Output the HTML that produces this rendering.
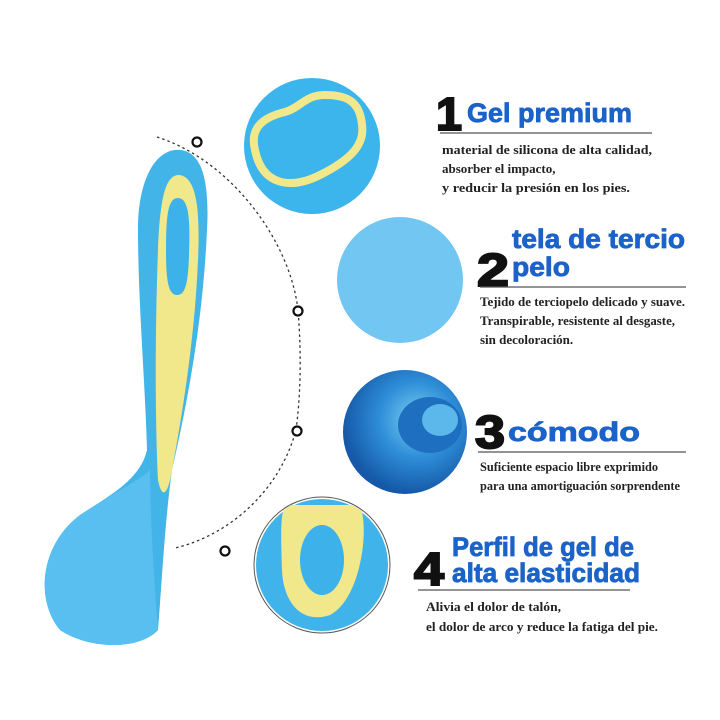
<!DOCTYPE html>
<html><head><meta charset="utf-8"><style>
html,body{margin:0;padding:0;background:#fff}
svg{display:block}
.t{font-family:"Liberation Sans",sans-serif;font-weight:bold;fill:#1b63c9;stroke:#1b63c9;stroke-width:0.8;font-size:27px}
.n{font-family:"Liberation Sans",sans-serif;font-weight:bold;fill:#111;stroke:#111;stroke-width:2;font-size:46px}
.d{font-family:"Liberation Serif",serif;font-weight:bold;fill:#222;font-size:13px}
</style></head><body>
<svg width="720" height="720" viewBox="0 0 720 720" xmlns="http://www.w3.org/2000/svg">
<defs>
<clipPath id="c1"><circle cx="312" cy="146" r="68"/></clipPath>
<clipPath id="c4"><circle cx="322" cy="565" r="67"/></clipPath>
<radialGradient id="g3" cx="0.6" cy="0.4" r="0.6"><stop offset="0" stop-color="#7fd0f0"/><stop offset="0.5" stop-color="#2f8fd8"/><stop offset="1" stop-color="#1559a8"/></radialGradient>
</defs>
<path d="M175,150 C200,148 210,175 207,230 C203,320 188,400 172,470 C165,520 162,580 158,630 C140,650 90,650 60,630 C35,600 40,545 80,515 C110,495 140,480 147,450 C145,380 138,300 138,230 C138,180 155,152 175,150 Z" fill="#43b4e8"/>
<path d="M178,175 C198,175 200,215 198,260 C195,330 185,400 172,470 C168,495 162,500 158,480 C155,420 155,330 158,250 C160,200 165,176 178,175 Z" fill="#f0e88a"/>
<path d="M178,198 C190,198 190,225 189,255 C188,285 185,295 177,295 C168,295 166,280 166,250 C166,215 168,198 178,198 Z" fill="#3cb1ea"/>
<path d="M60,630 C35,600 40,545 80,515 C110,495 140,480 150,470 C150,520 155,590 158,630 C140,650 90,650 60,630 Z" fill="#58bff0"/>
<path d="M157,137 C230,160 290,240 298,310 C302,360 300,400 296,430 C280,490 230,535 175,548" fill="none" stroke="#333" stroke-width="1.3" stroke-dasharray="2.5,3"/>
<g fill="#fff" stroke="#111" stroke-width="2.2">
<circle cx="197" cy="142" r="4.5"/><circle cx="298" cy="311" r="4.5"/><circle cx="297" cy="431" r="4.5"/><circle cx="225" cy="551" r="4.5"/></g>
<circle cx="312" cy="146" r="68" fill="#3cb4ec"/>
<g clip-path="url(#c1)">
<path d="M255,150 C250,130 260,118 285,112 C300,108 305,95 325,95 C345,95 360,100 362,125 C365,145 350,160 320,175 C290,190 262,185 255,150 Z" fill="none" stroke="#f0e88a" stroke-width="8"/>
</g>
<circle cx="400" cy="280" r="63" fill="#72c6f2"/>
<circle cx="405" cy="432" r="62" fill="url(#g3)"/>
<ellipse cx="430" cy="425" rx="32" ry="28" fill="#1e6fc0"/>
<ellipse cx="440" cy="420" rx="18" ry="16" fill="#5cb8ea"/>
<circle cx="322" cy="565" r="68" fill="#fff" stroke="#555" stroke-width="1"/>
<circle cx="322" cy="565" r="66" fill="#40b4ea"/>
<g clip-path="url(#c4)">
<path d="M285,505 L360,505 C370,530 360,600 330,615 C300,625 283,600 282,570 C281,540 280,515 285,505 Z" fill="#f0e88a"/>
<ellipse cx="322" cy="560" rx="22" ry="35" fill="#3cb1ea"/>
</g>
<text x="436" y="130" class="n" textLength="26" lengthAdjust="spacingAndGlyphs">1</text>
<text x="467" y="122" class="t" textLength="165" lengthAdjust="spacingAndGlyphs">Gel premium</text>
<line x1="440" y1="133" x2="652" y2="133" stroke="#555" stroke-width="1.3"/>
<text x="442" y="154" class="d" textLength="210" lengthAdjust="spacingAndGlyphs">material de silicona de alta calidad,</text>
<text x="442" y="173" class="d">absorber el impacto,</text>
<text x="442" y="192" class="d" textLength="188" lengthAdjust="spacingAndGlyphs">y reducir la presión en los pies.</text>

<text x="477" y="286" class="n" textLength="32" lengthAdjust="spacingAndGlyphs">2</text>
<text x="512" y="248" class="t" textLength="173" lengthAdjust="spacingAndGlyphs">tela de tercio</text>
<text x="512" y="276" class="t" textLength="58" lengthAdjust="spacingAndGlyphs">pelo</text>
<line x1="480" y1="287" x2="686" y2="287" stroke="#555" stroke-width="1.3"/>
<text x="480" y="306" class="d" textLength="205" lengthAdjust="spacingAndGlyphs">Tejido de terciopelo delicado y suave.</text>
<text x="480" y="325" class="d" textLength="195" lengthAdjust="spacingAndGlyphs">Transpirable, resistente al desgaste,</text>
<text x="480" y="344" class="d">sin decoloración.</text>

<text x="475" y="448" class="n" textLength="30" lengthAdjust="spacingAndGlyphs">3</text>
<text x="508" y="441" class="t" textLength="132" lengthAdjust="spacingAndGlyphs">cómodo</text>
<line x1="478" y1="452" x2="686" y2="452" stroke="#555" stroke-width="1.3"/>
<text x="480" y="471" class="d" textLength="178" lengthAdjust="spacingAndGlyphs">Suficiente espacio libre exprimido</text>
<text x="480" y="490" class="d" textLength="200" lengthAdjust="spacingAndGlyphs">para una amortiguación sorprendente</text>

<text x="414" y="585" class="n" textLength="30" lengthAdjust="spacingAndGlyphs">4</text>
<text x="452" y="556" class="t" textLength="182" lengthAdjust="spacingAndGlyphs">Perfil de gel de</text>
<text x="452" y="582" class="t" textLength="188" lengthAdjust="spacingAndGlyphs">alta elasticidad</text>
<line x1="418" y1="590" x2="630" y2="590" stroke="#555" stroke-width="1.3"/>
<text x="426" y="611" class="d" textLength="135" lengthAdjust="spacingAndGlyphs">Alivia el dolor de talón,</text>
<text x="426" y="631" class="d" textLength="232" lengthAdjust="spacingAndGlyphs">el dolor de arco y reduce la fatiga del pie.</text>
</svg>
</body></html>
